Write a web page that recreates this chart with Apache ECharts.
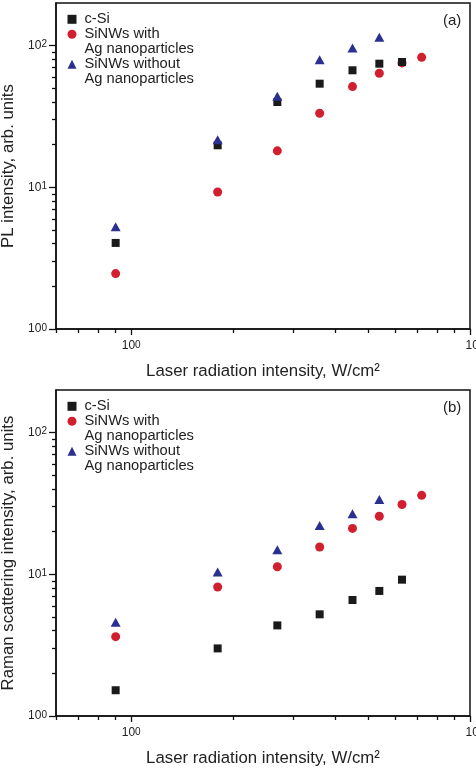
<!DOCTYPE html>
<html>
<head>
<meta charset="utf-8">
<script src="https://cdn.jsdelivr.net/npm/echarts@6/dist/echarts.min.js"></script>
<style>
html,body{margin:0;padding:0;background:#fff;}
#chart{width:476px;height:768px;}
</style>
</head>
<body>
<div id="chart"></div>
<script>
// ---- data ----
const xValues = [0.9, 1.8, 2.7, 3.6, 4.5, 5.4, 6.3, 7.2];
const seriesNames = ['c-Si', 'SiNWs with\nAg nanoparticles', 'SiNWs without\nAg nanoparticles'];
// panel (a): PL intensity
const plCSi = [4.05, 19.8, 40.0, 53.9, 67.0, 74.6, 76.7];
const plWithAg = [2.46, 9.27, 18.1, 33.3, 51.4, 63.8, 75.5, 82.7];
const plWithoutAg = [5.27, 21.7, 43.9, 79.6, 96.3, 114.5];
// panel (b): Raman scattering intensity
const ramanCSi = [1.52, 3.0, 4.36, 5.22, 6.59, 7.63, 9.17];
const ramanWithAg = [3.63, 8.14, 11.3, 15.6, 21.1, 25.7, 31.1, 36.1];
const ramanWithoutAg = [4.58, 10.4, 14.9, 22.1, 26.8, 33.8];
// ticks
const xMajorTicks = [1, 10];
const xMinorTicks = [0.6, 0.7, 0.8, 0.9, 2, 3, 4, 5, 6, 7, 8, 9];
const yMajorTicks = [1, 10, 100];
const yMinorTicks = [2, 3, 4, 5, 6, 7, 8, 9, 20, 30, 40, 50, 60, 70, 80, 90];
const xRange = [0.6, 10];
const yRange = [1, 200];
const panelLabels = ['(a)', '(b)'];
const yTitles = ['PL intensity, arb. units', 'Raman scattering intensity, arb. units'];
const xTitle = 'Laser radiation intensity, W/cm\u00b2';

// ---- styles ----
const FONT = '"Liberation Sans", Arial, Helvetica, sans-serif';
const colors = ['#1a1a1a', '#d21f30', '#2b2f90'];
const symbols = ['rect', 'circle', 'triangle'];
const symbolSizes = [8, 9, [10, 9]];
const panels = [
  {top: 3, height: 326, data: [plCSi, plWithAg, plWithoutAg]},
  {top: 390, height: 326, data: [ramanCSi, ramanWithAg, ramanWithoutAg]}
];

function pairs(arr) { return arr.map((v, i) => [xValues[i], v]); }
function powLabel(v) {
  const e = Math.round(Math.log10(v));
  return '{n|10}{s|' + e + '}';
}
function powLabelX(v) {
  const e = Math.round(Math.log10(v));
  return (e >= 1 ? '{m|10}' : '{n|10}') + '{s|' + e + '}';
}
const richSup = {
  n: {fontSize: 12, lineHeight: 12, fontFamily: FONT, color: '#222', verticalAlign: 'bottom', padding: [2, 0, 0, 0]},
  m: {fontSize: 12, lineHeight: 12, fontFamily: FONT, color: '#222', verticalAlign: 'bottom', padding: [2, 0, 0, 10]},
  s: {fontSize: 10, lineHeight: 10, fontFamily: FONT, color: '#222', verticalAlign: 'top'}
};

const grid = [], xAxis = [], yAxis = [], series = [], legend = [], graphic = [];
panels.forEach((p, k) => {
  grid.push({left: 56, right: 6, top: p.top, height: p.height, show: true, borderColor: '#111', borderWidth: 1.5,
    containLabel: false, outerBoundsMode: 'none'});
  // major x axis
  xAxis.push({type: 'log', logBase: 10, gridIndex: k, position: 'bottom', min: xRange[0], max: xRange[1],
    name: xTitle, nameLocation: 'middle', nameGap: 34,
    nameTextStyle: {fontFamily: FONT, fontSize: 16.8, color: '#222'},
    axisLine: {show: true, lineStyle: {color: '#111', width: 1.5}},
    axisTick: {show: true, inside: false, length: 6, lineStyle: {color: '#111', width: 1.3}, customValues: xMajorTicks},
    axisLabel: {show: true, margin: 11, formatter: powLabelX, rich: richSup, customValues: xMajorTicks, showMinLabel: true, showMaxLabel: true, hideOverlap: false},
    splitLine: {show: false}, minorTick: {show: false}});
  // minor x axis
  xAxis.push({type: 'log', logBase: 10, gridIndex: k, position: 'bottom', min: xRange[0], max: xRange[1],
    axisLine: {show: false},
    axisTick: {show: true, inside: false, length: 4, lineStyle: {color: '#111', width: 1.3}, customValues: xMinorTicks},
    axisLabel: {show: false}, splitLine: {show: false}});
  // major y axis
  yAxis.push({type: 'log', logBase: 10, gridIndex: k, position: 'left', min: yRange[0], max: yRange[1],
    name: yTitles[k], nameLocation: 'middle', nameGap: 38,
    nameTextStyle: {fontFamily: FONT, fontSize: 16.8, color: '#222'},
    axisLine: {show: true, lineStyle: {color: '#111', width: 1.5}},
    axisTick: {show: true, inside: false, length: 7, lineStyle: {color: '#111', width: 1.3}, customValues: yMajorTicks},
    axisLabel: {show: true, margin: 9, formatter: powLabel, rich: richSup, customValues: yMajorTicks, showMinLabel: true, showMaxLabel: true, hideOverlap: false},
    splitLine: {show: false}});
  // minor y axis
  yAxis.push({type: 'log', logBase: 10, gridIndex: k, position: 'left', min: yRange[0], max: yRange[1],
    axisLine: {show: false},
    axisTick: {show: true, inside: false, length: 4, lineStyle: {color: '#111', width: 1.3}, customValues: yMinorTicks},
    axisLabel: {show: false}, splitLine: {show: false}});
  p.data.forEach((arr, j) => {
    series.push({type: 'scatter', name: seriesNames[j], xAxisIndex: 2 * k, yAxisIndex: 2 * k,
      data: pairs(arr), symbol: symbols[j], symbolSize: symbolSizes[j],
      itemStyle: {color: colors[j], opacity: 1}, z: 3 + (j === 1 ? 0 : (j === 0 ? 1 : 2))});
  });
  legend.push({orient: 'vertical', left: 67.5, top: p.top + 8.8, padding: 0, itemGap: -15,
    itemWidth: 9, itemHeight: 9, selectedMode: false,
    formatter: name => (name.indexOf('\n') >= 0 ? '\n' + name : name),
    textStyle: {fontFamily: FONT, fontSize: 14.7, lineHeight: 15, color: '#222', padding: [0, 0, 0, 3]},
    data: [
      {name: seriesNames[0], icon: 'rect'},
      {name: seriesNames[1], icon: 'circle'},
      {name: seriesNames[2], icon: 'triangle'}
    ]});
  graphic.push({type: 'text', left: 443, top: p.top + 10,
    style: {text: panelLabels[k], font: '15px ' + FONT, fill: '#222'}});
});

const chart = echarts.init(document.getElementById('chart'), null, {renderer: 'canvas'});
chart.setOption({
  animation: false,
  backgroundColor: '#fff',
  textStyle: {fontFamily: FONT},
  grid, xAxis, yAxis, series, legend, graphic
});
</script>
</body>
</html>
